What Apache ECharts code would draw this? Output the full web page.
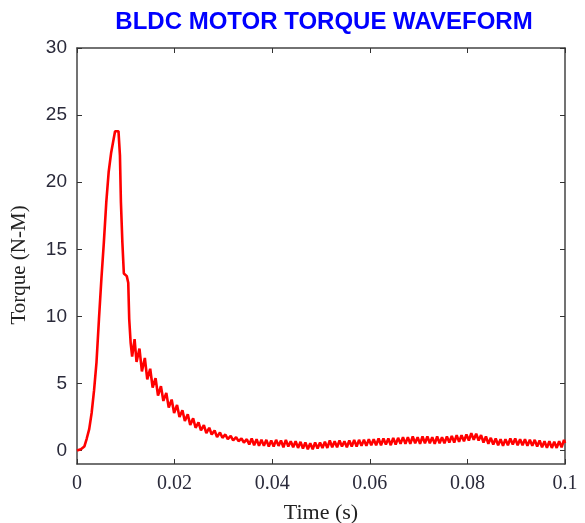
<!DOCTYPE html>
<html>
<head>
<meta charset="utf-8">
<script src="https://cdn.jsdelivr.net/npm/echarts@6/dist/echarts.min.js"></script>
<style>
  html, body { margin: 0; padding: 0; background: #fff; }
  #chart { width: 585px; height: 523px; }
</style>
</head>
<body>
<div id="chart"></div>
<script>
// torque samples [time (s), torque (N-M)]
var riseData = [
  [0, 0], [0.0008, 0.1], [0.0015, 0.3], [0.002, 0.9], [0.0025, 1.6], [0.003, 2.8],
  [0.0035, 4.5], [0.004, 6.6], [0.0045, 9.8], [0.005, 12.8], [0.0055, 15.5],
  [0.006, 18.5], [0.0065, 20.8], [0.007, 22.2], [0.0075, 23.2], [0.0078, 23.8],
  [0.0085, 23.8], [0.0088, 22.0], [0.009, 18.5], [0.0093, 15.5], [0.0096, 13.2],
  [0.0102, 13.0], [0.0105, 12.5], [0.0107, 9.8], [0.011, 8.0]
];
var decayData = [
  [0.0113, 7.0], [0.0118, 8.3], [0.0122, 6.6], [0.0128, 7.6], [0.0133, 5.9],
  [0.0139, 6.9], [0.0144, 5.3], [0.015, 6.1], [0.0155, 4.7], [0.0161, 5.4],
  [0.0166, 4.1], [0.0172, 4.8], [0.0177, 3.7], [0.0183, 4.3], [0.0188, 3.2],
  [0.0194, 3.8], [0.0199, 2.8], [0.0205, 3.4], [0.021, 2.5], [0.0216, 3.0],
  [0.0221, 2.2], [0.0227, 2.7], [0.0232, 1.9], [0.0238, 2.4], [0.0243, 1.7],
  [0.0249, 2.1], [0.0254, 1.5], [0.026, 1.9], [0.0265, 1.3], [0.0271, 1.7],
  [0.0276, 1.2], [0.0282, 1.5], [0.0287, 1.0], [0.0293, 1.35], [0.0298, 0.95],
  [0.0304, 1.2], [0.0309, 0.85], [0.0315, 1.1], [0.032, 0.75], [0.0326, 1.0],
  [0.0331, 0.7], [0.0337, 0.9], [0.0342, 0.6], [0.0348, 0.85]
];
var tailData = [
  [0.0353, 0.45], [0.0358, 0.9], [0.0363, 0.4], [0.0368, 0.85], [0.0373, 0.35],
  [0.0378, 0.8], [0.0383, 0.35], [0.0388, 0.8], [0.0393, 0.3], [0.0398, 0.75],
  [0.0403, 0.3], [0.0408, 0.8], [0.0413, 0.35], [0.0418, 0.75], [0.0423, 0.25],
  [0.0428, 0.8], [0.0433, 0.3], [0.0438, 0.7], [0.0443, 0.25], [0.0448, 0.7],
  [0.0453, 0.2], [0.0458, 0.65], [0.0463, 0.15], [0.0468, 0.6], [0.0473, 0.1],
  [0.0478, 0.55], [0.0483, 0.1], [0.0488, 0.6], [0.0493, 0.15], [0.0498, 0.6],
  [0.0503, 0.2], [0.0508, 0.65], [0.0513, 0.2], [0.0518, 0.75], [0.0523, 0.25],
  [0.0528, 0.7], [0.0533, 0.25], [0.0538, 0.75], [0.0543, 0.3], [0.0548, 0.7],
  [0.0553, 0.25], [0.0558, 0.75], [0.0563, 0.3], [0.0568, 0.8], [0.0573, 0.3],
  [0.0578, 0.8], [0.0583, 0.35], [0.0588, 0.8], [0.0593, 0.35], [0.0598, 0.85],
  [0.0603, 0.4], [0.0608, 0.85], [0.0613, 0.4], [0.0618, 0.9], [0.0623, 0.4],
  [0.0628, 0.9], [0.0633, 0.45], [0.0638, 0.9], [0.0643, 0.4], [0.0648, 0.95],
  [0.0653, 0.45], [0.0658, 0.95], [0.0663, 0.5], [0.0668, 1.0], [0.0673, 0.5],
  [0.0678, 1.0], [0.0683, 0.5], [0.0688, 1.05], [0.0693, 0.55], [0.0698, 1.0],
  [0.0703, 0.5], [0.0708, 1.05], [0.0713, 0.55], [0.0718, 1.05], [0.0723, 0.55],
  [0.0728, 1.0], [0.0733, 0.5], [0.0738, 1.05], [0.0743, 0.55], [0.0748, 1.0],
  [0.0753, 0.55], [0.0758, 1.05], [0.0763, 0.6], [0.0768, 1.1], [0.0773, 0.6],
  [0.0778, 1.15], [0.0783, 0.65], [0.0788, 1.15], [0.0793, 0.7], [0.0798, 1.2],
  [0.0803, 0.75], [0.0808, 1.3], [0.0813, 0.8], [0.0818, 1.25], [0.0823, 0.75],
  [0.0828, 1.15], [0.0833, 0.6], [0.0838, 1.05], [0.0843, 0.5], [0.0848, 0.95],
  [0.0853, 0.45], [0.0858, 0.9], [0.0863, 0.4], [0.0868, 0.85], [0.0873, 0.35],
  [0.0878, 0.85], [0.0883, 0.4], [0.0888, 0.9], [0.0893, 0.45], [0.0898, 0.9],
  [0.0903, 0.4], [0.0908, 0.85], [0.0913, 0.4], [0.0918, 0.85], [0.0923, 0.35],
  [0.0928, 0.8], [0.0933, 0.35], [0.0938, 0.8], [0.0943, 0.3], [0.0948, 0.75],
  [0.0953, 0.25], [0.0958, 0.7], [0.0963, 0.2], [0.0968, 0.7], [0.0973, 0.2],
  [0.0978, 0.65], [0.0983, 0.2], [0.0988, 0.7], [0.0993, 0.25], [0.0998, 0.8],
  [0.1, 0.55]
];
var xTicks = [0, 0.02, 0.04, 0.06, 0.08, 0.1];
var yTicks = [0, 5, 10, 15, 20, 25, 30];
var yRange = [-1, 30];

var torqueData = riseData.concat(decayData, tailData);

var chart = echarts.init(document.getElementById('chart'));

var frameLine = { show: true, onZero: false, lineStyle: { color: '#444', width: 1.5 } };
var tickIn = { show: true, inside: true, length: 5, lineStyle: { color: '#333' } };
var serif = 'Liberation Serif, Times New Roman, serif';
var sans = 'Liberation Sans, Arial, sans-serif';

var option = {
  animation: false,
  backgroundColor: '#fff',
  title: {
    text: 'BLDC MOTOR TORQUE WAVEFORM',
    left: 319,
    textAlign: 'center',
    top: 5,
    textStyle: {
      color: '#0000ff',
      fontFamily: sans,
      fontWeight: 'bold',
      fontSize: 24
    }
  },
  grid: { left: 77, right: 20, top: 48, bottom: 59, containLabel: false, outerBoundsMode: 'none' },
  xAxis: [{
    type: 'value',
    min: xTicks[0],
    max: xTicks[xTicks.length - 1],
    interval: 0.02,
    name: 'Time (s)',
    nameLocation: 'middle',
    nameGap: 38,
    nameTextStyle: { fontFamily: serif, fontSize: 22, color: '#222' },
    axisLine: frameLine,
    axisTick: tickIn,
    splitLine: { show: false },
    axisLabel: {
      margin: 10,
      fontFamily: serif,
      fontSize: 20,
      color: '#2a2a3a',
      formatter: function (v) { return String(Math.round(v * 100) / 100); }
    }
  }, {
    type: 'value',
    position: 'top',
    min: xTicks[0],
    max: xTicks[xTicks.length - 1],
    interval: 0.02,
    axisLine: frameLine,
    axisTick: tickIn,
    axisLabel: { show: false },
    splitLine: { show: false }
  }],
  yAxis: [{
    type: 'value',
    min: yRange[0],
    max: yRange[1],
    name: 'Torque (N-M)',
    nameLocation: 'middle',
    nameGap: 47,
    nameTextStyle: { fontFamily: serif, fontSize: 21, color: '#222', padding: [0, 18, 0, 0] },
    axisLine: frameLine,
    axisTick: { show: true, inside: true, length: 5, lineStyle: { color: '#333' }, customValues: yTicks },
    splitLine: { show: false },
    axisLabel: {
      margin: 10,
      fontFamily: sans,
      fontSize: 19,
      color: '#2a2a3a',
      customValues: yTicks
    }
  }, {
    type: 'value',
    position: 'right',
    min: yRange[0],
    max: yRange[1],
    axisLine: frameLine,
    axisTick: { show: true, inside: true, length: 5, lineStyle: { color: '#333' }, customValues: yTicks },
    axisLabel: { show: false },
    splitLine: { show: false }
  }],
  series: [{
    name: 'Torque',
    type: 'line',
    xAxisIndex: 0,
    yAxisIndex: 0,
    data: torqueData,
    showSymbol: false,
    symbol: 'none',
    lineStyle: { color: '#ff0000', width: 2.6 }
  }, {
    // keeps the top/right frame axes alive
    name: 'frame',
    type: 'line',
    xAxisIndex: 1,
    yAxisIndex: 1,
    data: [],
    symbol: 'none',
    silent: true
  }]
};

chart.setOption(option);
</script>
</body>
</html>
